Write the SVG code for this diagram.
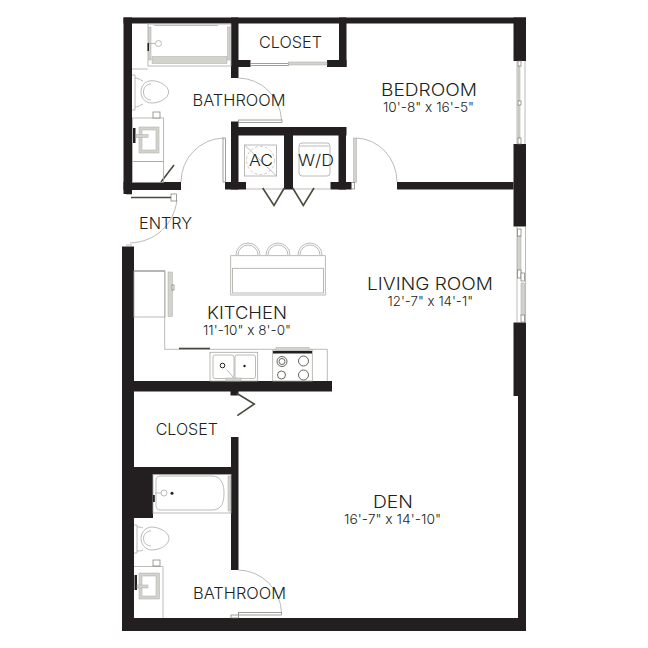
<svg xmlns="http://www.w3.org/2000/svg" width="648" height="648" viewBox="0 0 648 648">
<style>
.w{fill:#231f20}
.f{fill:none;stroke:#a9aaa5;stroke-width:.8}
.g{fill:#d2d3cd;stroke:#a9aaa5;stroke-width:.5}
.d{fill:none;stroke:#4a4a3c;stroke-width:1.600}
.p{fill:#fff;stroke:#77776f;stroke-width:.7}
.k{fill:#231f20}
text{font-family:"Inter","Liberation Sans",sans-serif;font-weight:300;fill:#231f20;font-size:16.500px}
.b{font-size:17.500px}
.s{font-size:13.500px}
</style>
<rect width="648" height="648" fill="#fff"/>
<g id="walls">
<rect class="w" x="123.500" y="17.500" width="402.500" height="6"/>
<rect class="w" x="123.500" y="17.500" width="8.500" height="176.500"/>
<rect class="w" x="123.500" y="182" width="57.500" height="8"/>
<rect class="w" x="231" y="17.500" width="7.500" height="60.500"/>
<rect class="w" x="231" y="60" width="19.500" height="7"/>
<rect class="w" x="339" y="17.500" width="7.500" height="49.500"/>
<rect class="w" x="327" y="60" width="19.500" height="7"/>
<rect class="w" x="231" y="127" width="115.500" height="8.500"/>
<rect class="w" x="231" y="121.500" width="7.500" height="68"/>
<rect class="w" x="225" y="182" width="21" height="7.500"/>
<rect class="w" x="284" y="127" width="9" height="62.500"/>
<rect class="w" x="338.500" y="127" width="7.500" height="62.500"/>
<rect class="w" x="330.500" y="182" width="21" height="7.500"/>
<rect class="w" x="397" y="182" width="116.500" height="7.500"/>
<rect class="w" x="513.500" y="17.500" width="12.500" height="43.500"/>
<rect class="w" x="513.500" y="144" width="12.500" height="82.500"/>
<rect class="w" x="513.500" y="322.500" width="12.500" height="73.500"/>
<rect class="w" x="518" y="396" width="8" height="235"/>
<rect class="w" x="122" y="246.500" width="12" height="384.500"/>
<rect class="w" x="122" y="618" width="404" height="13"/>
<rect class="w" x="134" y="381" width="198" height="10.500"/>
<rect class="w" x="230.500" y="391" width="8" height="4.500"/>
<rect class="w" x="231" y="437" width="7.500" height="133"/>
<rect class="w" x="134" y="467" width="97" height="7.500"/>
<rect class="w" x="134" y="474" width="19" height="44"/>
</g>
<g id="doors">
<path class="f" d="M238.500 78A44 44 0 0 1 281.500 120M223 138A44 44 0 0 0 181 182M356 138A42 44 0 0 1 397 182M238.500 570A44 44 0 0 1 281.500 612.500M177 200C174 224 156 242 130 243"/>
<rect class="p" x="238.500" y="120" width="43.500" height="2.500"/>
<rect class="p" x="223" y="138" width="2.500" height="44"/>
<rect class="g" x="353.500" y="138" width="3" height="44.500"/>
<rect class="p" x="351.500" y="182.500" width="3" height="6.500"/>
<rect class="p" x="238.500" y="612.500" width="43" height="2.500"/>
<rect class="p" x="231" y="615" width="7.500" height="3"/>
<path class="d" d="M131 197.500H171"/>
<rect class="p" x="171" y="194" width="5.500" height="7"/>
<path class="f" d="M126 194.500h6M126 245h6"/>
<path class="p" d="M250.500 63.500H288.500V65.500H250.500Z"/>
<rect class="g" x="288.500" y="62" width="38.500" height="3"/>
<path class="d" d="M161 182L174 165"/>
<path class="f" d="M246 189H284M293 189H330.500"/>
<path class="d" d="M262.700 188L274 205.500L284.300 188M292.700 188L303.300 205.500L314 188"/>
<path class="d" d="M236.700 393.300L254.300 404L237.300 415.700"/>
</g>
<g id="windows">
<path class="f" d="M517 61V144M525 61V144M517 227V322M525.500 227V322"/>
<rect class="g" x="518" y="66" width="2" height="35"/>
<rect class="g" x="518" y="105" width="2" height="33"/>
<rect class="p" x="518" y="61" width="3" height="5"/>
<rect class="p" x="518" y="101" width="3" height="4"/>
<rect class="p" x="518" y="138" width="3" height="6"/>
<rect class="g" x="517.500" y="236" width="3.500" height="41"/>
<rect class="g" x="521" y="283" width="3.500" height="33"/>
<rect class="p" x="517.500" y="229" width="3.500" height="7"/>
<rect class="p" x="517.500" y="270" width="3.500" height="8"/>
<rect class="p" x="521" y="273" width="3.500" height="8"/>
<rect class="p" x="521" y="315" width="3.500" height="7"/>
</g>
<g id="upper-bathroom">
<rect class="f" x="148" y="24" width="83" height="42"/>
<path class="f" d="M154 25.500H218M132 69H148"/>
<rect class="g" x="152" y="56.500" width="75" height="7"/>
<rect class="g" x="148.500" y="27" width="2.500" height="33"/>
<rect class="g" x="227.500" y="27" width="2.500" height="33"/>
<circle class="f" cx="158.500" cy="43.500" r="3"/>
<path class="f" d="M149 43.500H155"/>
<rect class="k" x="147.500" y="43" width="1.500" height="8"/>
<path class="f" d="M132 75h3v35h-3M135 78c2 0 4 1 8 3M135 107c2 0 4-1 8-3"/>
<path class="f" d="M141 92C141 85 146 80.700 152 80.700C160 81 168.600 86 168.600 92C168.600 98 160 103 152 103C146 103 141 99 141 92Z"/>
<path class="f" d="M143.500 92C143.500 87 147 84 151 84M143.500 92C143.500 97 147 100 151 100"/>
<rect class="f" x="132.500" y="118" width="31" height="43.500"/>
<rect class="g" x="139" y="127" width="20" height="26"/>
<rect x="142" y="130" width="14" height="20" fill="#fff" stroke="#a9aaa5" stroke-width=".5"/>
<rect class="f" x="132.500" y="161.500" width="31" height="21"/>
<rect class="k" x="133" y="128" width="2.500" height="15"/>
<rect class="g" x="136" y="134.500" width="12" height="3"/>
<rect class="p" x="153" y="112" width="7" height="6"/>
</g>
<g id="ac-wd">
<rect class="f" x="244.500" y="145" width="32" height="31"/>
<path class="f" d="M244.500 145L276.500 176"/>
<circle cx="260.500" cy="160.500" r="14" fill="none" stroke="#a9aaa5" stroke-width=".6" stroke-dasharray="3 2"/>
<rect class="f" x="299" y="143" width="31" height="33" rx="3"/>
<path class="f" d="M300 146H329"/>
</g>
<g id="kitchen-fixtures">
<rect class="f" x="230.700" y="255.700" width="94.600" height="39.300"/>
<rect class="f" x="232.500" y="268.300" width="91" height="24.700"/>
<path class="f" d="M236 255A12 12 0 0 1 260 255M238 255A10 10 0 0 1 258 255M266 255A12 12 0 0 1 290 255M268 255A10 10 0 0 1 288 255M298 255A12 12 0 0 1 322 255M300 255A10 10 0 0 1 320 255"/>
<rect class="f" x="134" y="271" width="31" height="46"/>
<path d="M134 271H165" stroke="#a9aaa5" stroke-width="1.500"/>
<rect class="g" x="168" y="272" width="4.500" height="44.500"/>
<rect class="p" x="172" y="285" width="2" height="5"/>
<path class="f" d="M164.700 271V349.300H327.300V381"/>
<path class="d" d="M179 348.500H210"/>
<rect class="f" x="210" y="352.300" width="47.700" height="28.700"/>
<rect class="f" x="213" y="355" width="21" height="23.500" rx="2"/>
<rect class="f" x="235" y="355" width="20.500" height="23.500" rx="2"/>
<circle cx="222.500" cy="365.500" r="2.300" fill="#fff" stroke="#231f20" stroke-width="1"/>
<circle cx="244.500" cy="366" r="1.200" class="k"/>
<path class="f" d="M227 370L234 378"/>
<rect class="g" x="226" y="378" width="15" height="3"/>
<rect class="f" x="272.700" y="350" width="39.600" height="31"/>
<rect class="g" x="276" y="347.500" width="33" height="3"/>
<rect class="k" x="273" y="351" width="39" height="2.500"/>
<g fill="none" stroke="#55554d" stroke-width=".9"><circle cx="282" cy="361.500" r="5"/><circle cx="282" cy="361.500" r="3"/><circle cx="303.500" cy="361" r="5"/><circle cx="281.500" cy="375" r="4"/><circle cx="303.500" cy="375" r="5"/></g>
</g>
<g id="lower-bathroom">
<rect class="f" x="153" y="474.500" width="78" height="38.500"/>
<path class="f" d="M160 476H212C222 476 224 486 224 493C224 502 222 510 212 510H160C157 510 156 508 156 505V481C156 478 157 476 160 476Z"/>
<rect class="g" x="228" y="476" width="2.500" height="35"/>
<circle class="f" cx="164" cy="493" r="3"/>
<path class="f" d="M155 493H161"/>
<circle cx="172" cy="493.300" r="1.500" class="k"/>
<rect class="k" x="153" y="495" width="1.800" height="7"/>
<path class="f" d="M134 525h3v28h-3M137 527c2 0 4 0 6 1M137 551c2 0 4 0 6-1"/>
<path class="f" d="M141 538.500C141 532 146 527 152 527C160 527.500 169 532 169 538.500C169 545 160 550 152 550C146 550 141 545 141 538.500Z"/>
<path class="f" d="M143.500 538.500C143.500 534 147 531 151 531M143.500 538.500C143.500 543 147 546 151 546"/>
<path class="f" d="M134 566.500H163V618"/>
<rect class="g" x="139" y="573" width="20.500" height="26"/>
<rect x="142" y="576" width="14" height="20" fill="#fff" stroke="#a9aaa5" stroke-width=".5"/>
<rect class="k" x="134.500" y="575" width="2.500" height="15"/>
<rect class="g" x="137" y="585" width="11" height="3"/>
<rect class="p" x="153" y="560" width="7" height="6"/>
</g>
<g id="labels">
<text x="259" y="48" textLength="63" lengthAdjust="spacingAndGlyphs">CLOSET</text>
<text x="192.500" y="106" textLength="93" lengthAdjust="spacingAndGlyphs">BATHROOM</text>
<text x="249" y="166" textLength="24" lengthAdjust="spacingAndGlyphs">AC</text>
<text x="298" y="166" textLength="36" lengthAdjust="spacingAndGlyphs">W/D</text>
<text x="139" y="229" textLength="53" lengthAdjust="spacingAndGlyphs">ENTRY</text>
<text class="b" x="381" y="96" textLength="96" lengthAdjust="spacingAndGlyphs">BEDROOM</text>
<text class="s" x="383" y="112" textLength="91" lengthAdjust="spacingAndGlyphs">10'-8" x 16'-5"</text>
<text class="b" x="367" y="290" textLength="126" lengthAdjust="spacingAndGlyphs">LIVING ROOM</text>
<text class="s" x="387.500" y="305.700" textLength="85.500" lengthAdjust="spacingAndGlyphs">12'-7" x 14'-1"</text>
<text class="b" x="207" y="319" textLength="80" lengthAdjust="spacingAndGlyphs">KITCHEN</text>
<text class="s" x="203" y="335" textLength="88" lengthAdjust="spacingAndGlyphs">11'-10" x 8'-0"</text>
<text x="155.700" y="435" textLength="62.300" lengthAdjust="spacingAndGlyphs">CLOSET</text>
<text class="b" x="373" y="508" textLength="40" lengthAdjust="spacingAndGlyphs">DEN</text>
<text class="s" x="344" y="524" textLength="97" lengthAdjust="spacingAndGlyphs">16'-7" x 14'-10"</text>
<text x="193" y="599" textLength="93" lengthAdjust="spacingAndGlyphs">BATHROOM</text>
</g>
</svg>
